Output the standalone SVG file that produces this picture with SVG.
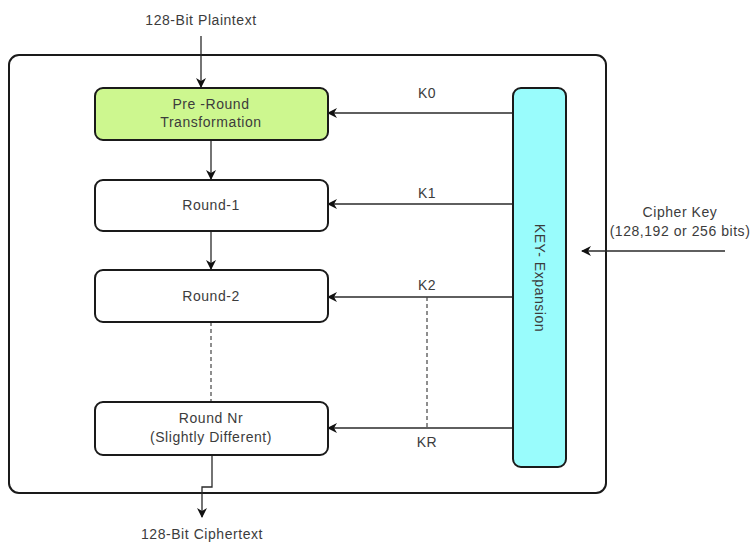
<svg xmlns="http://www.w3.org/2000/svg" width="756" height="542" viewBox="0 0 756 542">
  <style>
    .lbl { font-family: "Liberation Sans", Arial, sans-serif; font-size: 14px; fill: #3c3c3c; letter-spacing: 0.55px; }
    .box { fill: #ffffff; stroke: #1a1a1a; stroke-width: 2; }
    .wire { fill: none; stroke: #2a2a2a; stroke-width: 1.3; }
    .dash { fill: none; stroke: #444; stroke-width: 1.2; stroke-dasharray: 4 3; }
  </style>
  <defs>
    <marker id="arrow" viewBox="0 0 10 10" refX="9" refY="5" markerWidth="10" markerHeight="10" markerUnits="userSpaceOnUse" orient="auto">
      <path d="M0,0 L10,5 L0,10 L3,5 Z" fill="#111"/>
    </marker>
  </defs>
  <rect width="756" height="542" fill="#ffffff"/>

  <g id="container">
    <rect x="9" y="55" width="597" height="438" rx="10" fill="none" stroke="#1a1a1a" stroke-width="2"/>
  </g>

  <g id="connectors">
    <line class="wire" x1="201" y1="36" x2="201" y2="87" marker-end="url(#arrow)"/>
    <line class="wire" x1="211" y1="140" x2="211" y2="179" marker-end="url(#arrow)"/>
    <line class="wire" x1="211" y1="231" x2="211" y2="269" marker-end="url(#arrow)"/>
    <line class="dash" x1="211" y1="322" x2="211" y2="401"/>
    <polyline class="wire" points="212,455 212,487 202,487 202,517" marker-end="url(#arrow)"/>
    <line class="wire" x1="513" y1="113" x2="328" y2="113" marker-end="url(#arrow)"/>
    <line class="wire" x1="513" y1="204" x2="328" y2="204" marker-end="url(#arrow)"/>
    <line class="wire" x1="513" y1="297" x2="328" y2="297" marker-end="url(#arrow)"/>
    <line class="wire" x1="513" y1="428" x2="328" y2="428" marker-end="url(#arrow)"/>
    <line class="dash" x1="427" y1="297" x2="427" y2="428"/>
    <line class="wire" x1="725" y1="251" x2="582" y2="251" marker-end="url(#arrow)"/>
    <text class="lbl" x="427" y="98" text-anchor="middle">K0</text>
    <text class="lbl" x="427" y="198" text-anchor="middle">K1</text>
    <text class="lbl" x="427" y="290" text-anchor="middle">K2</text>
    <text class="lbl" x="427" y="447" text-anchor="middle">KR</text>
  </g>

  <g id="plaintext">
    <text class="lbl" x="201" y="25" text-anchor="middle">128-Bit Plaintext</text>
  </g>

  <g id="pre-round">
    <rect x="95" y="88" width="233" height="52" rx="8" fill="#cdf78f" stroke="#1a1a1a" stroke-width="2"/>
    <text class="lbl" x="211" y="109" text-anchor="middle">Pre -Round</text>
    <text class="lbl" x="211" y="127" text-anchor="middle">Transformation</text>
  </g>

  <g id="round-1">
    <rect class="box" x="95" y="180" width="233" height="51" rx="8"/>
    <text class="lbl" x="211" y="210" text-anchor="middle">Round-1</text>
  </g>

  <g id="round-2">
    <rect class="box" x="95" y="270" width="233" height="52" rx="8"/>
    <text class="lbl" x="211" y="301" text-anchor="middle">Round-2</text>
  </g>

  <g id="round-nr">
    <rect class="box" x="95" y="402" width="233" height="53" rx="8"/>
    <text class="lbl" x="211" y="423" text-anchor="middle">Round Nr</text>
    <text class="lbl" x="211" y="442" text-anchor="middle">(Slightly Different)</text>
  </g>

  <g id="key-expansion">
    <rect x="513" y="88" width="53" height="379" rx="8" fill="#99fcfc" stroke="#1a1a1a" stroke-width="2"/>
    <text class="lbl" x="0" y="0" text-anchor="middle" transform="translate(535 278) rotate(90)">KEY- Expansion</text>
  </g>

  <g id="cipher-key">
    <text class="lbl" x="680" y="217" text-anchor="middle">Cipher Key</text>
    <text class="lbl" x="680" y="236" text-anchor="middle">(128,192 or 256 bits)</text>
  </g>

  <g id="ciphertext">
    <text class="lbl" x="202" y="539" text-anchor="middle">128-Bit Ciphertext</text>
  </g>
</svg>
